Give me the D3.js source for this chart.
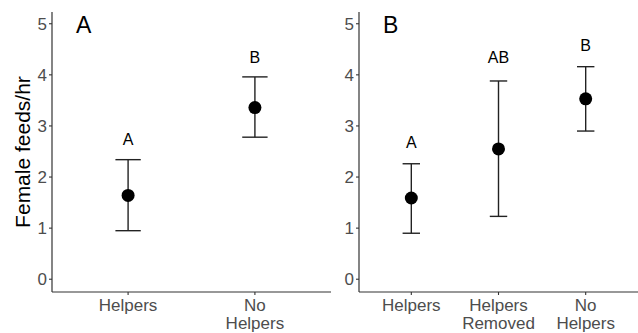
<!DOCTYPE html>
<html>
<head>
<meta charset="utf-8">
<script src="https://cdn.jsdelivr.net/npm/d3@7"></script>
<style>
    body { margin: 0; background: #fff; }
    text { font-family: "Liberation Sans", Arial, sans-serif; }
</style>
</head>
<body>
<div id="chart"></div>
<script>
// panel A: helpers vs no helpers
const catsA = ['Helpers', 'No\nHelpers'];
const meanA = [1.64, 3.36];
const lowA = [0.95, 2.78];
const highA = [2.34, 3.96];
const lettersA = ['A', 'B'];
const letterPosA = [2.74, 4.34];

// panel B: helpers, helpers removed, no helpers
const catsB = ['Helpers', 'Helpers\nRemoved', 'No\nHelpers'];
const meanB = [1.59, 2.55, 3.53];
const lowB = [0.90, 1.23, 2.90];
const highB = [2.26, 3.88, 4.16];
const lettersB = ['A', 'AB', 'B'];
const letterPosB = [2.67, 4.34, 4.58];

const yTicks = [0, 1, 2, 3, 4, 5];

const width = 638;
const height = 333;

const svg = d3.select('#chart')
    .append('svg')
    .attr('width', width)
    .attr('height', height);

const panelTop = 12;
const panelBottom = 292;

const y = d3.scaleLinear()
    .domain([-0.25, 5.23])
    .range([panelBottom, panelTop]);

// y axis title
svg.append('text')
    .attr('transform', `translate(30, ${(panelTop + panelBottom) / 2}) rotate(-90)`)
    .attr('text-anchor', 'middle')
    .attr('font-size', 21)
    .attr('fill', '#000')
    .text('Female feeds/hr');

const drawPanel = (left, right, cats, mean, low, high, letters, letterPos, tag) => {
    const idx = cats.map((d, i) => i);
    const x = d3.scaleLinear()
        .domain([-0.6, cats.length - 0.4])
        .range([left, right]);
    const capHalf = x(0.1) - x(0);

    const g = svg.append('g');

    // axes lines
    g.append('line')
        .attr('x1', left).attr('x2', left)
        .attr('y1', panelTop).attr('y2', panelBottom)
        .attr('stroke', '#333').attr('stroke-width', 1.2);
    g.append('line')
        .attr('x1', left).attr('x2', right)
        .attr('y1', panelBottom).attr('y2', panelBottom)
        .attr('stroke', '#333').attr('stroke-width', 1.2);

    // y ticks
    const yt = g.selectAll('.ytick')
        .data(yTicks)
        .enter()
        .append('g')
        .attr('transform', d => `translate(${left}, ${y(d)})`);
    yt.append('line')
        .attr('x1', -3).attr('x2', 0)
        .attr('stroke', '#333').attr('stroke-width', 1.1);
    yt.append('text')
        .attr('x', -5)
        .attr('dy', '0.35em')
        .attr('text-anchor', 'end')
        .attr('font-size', 17)
        .attr('fill', '#4d4d4d')
        .text(d => d);

    // x ticks
    const xt = g.selectAll('.xtick')
        .data(idx)
        .enter()
        .append('g')
        .attr('transform', i => `translate(${x(i)}, ${panelBottom})`);
    xt.append('line')
        .attr('y1', 0).attr('y2', 3)
        .attr('stroke', '#333').attr('stroke-width', 1.1);
    xt.append('text')
        .attr('text-anchor', 'middle')
        .attr('font-size', 17)
        .attr('fill', '#4d4d4d')
        .selectAll('tspan')
        .data(i => cats[i].split('\n'))
        .enter()
        .append('tspan')
        .attr('x', 0)
        .attr('y', (d, j) => 19 + j * 18)
        .text(d => d);

    // error bars
    const eb = g.selectAll('.eb')
        .data(idx)
        .enter()
        .append('g')
        .attr('stroke', '#222')
        .attr('stroke-width', 1.4);
    eb.append('line')
        .attr('x1', i => x(i)).attr('x2', i => x(i))
        .attr('y1', i => y(low[i])).attr('y2', i => y(high[i]));
    eb.append('line')
        .attr('x1', i => x(i) - capHalf).attr('x2', i => x(i) + capHalf)
        .attr('y1', i => y(high[i])).attr('y2', i => y(high[i]));
    eb.append('line')
        .attr('x1', i => x(i) - capHalf).attr('x2', i => x(i) + capHalf)
        .attr('y1', i => y(low[i])).attr('y2', i => y(low[i]));

    // means
    g.selectAll('circle')
        .data(idx)
        .enter()
        .append('circle')
        .attr('cx', i => x(i))
        .attr('cy', i => y(mean[i]))
        .attr('r', 6.5)
        .attr('fill', '#000');

    // significance letters
    g.selectAll('.sig')
        .data(idx)
        .enter()
        .append('text')
        .attr('x', i => x(i))
        .attr('y', i => y(letterPos[i]))
        .attr('dy', '0.35em')
        .attr('text-anchor', 'middle')
        .attr('font-size', 16)
        .attr('fill', '#000')
        .text(i => letters[i]);

    // panel tag
    g.append('text')
        .attr('x', left + 24)
        .attr('y', 33)
        .attr('font-size', 23)
        .attr('fill', '#000')
        .text(tag);
};

drawPanel(52, 331, catsA, meanA, lowA, highA, lettersA, letterPosA, 'A');
drawPanel(359, 638, catsB, meanB, lowB, highB, lettersB, letterPosB, 'B');
</script>
</body>
</html>
